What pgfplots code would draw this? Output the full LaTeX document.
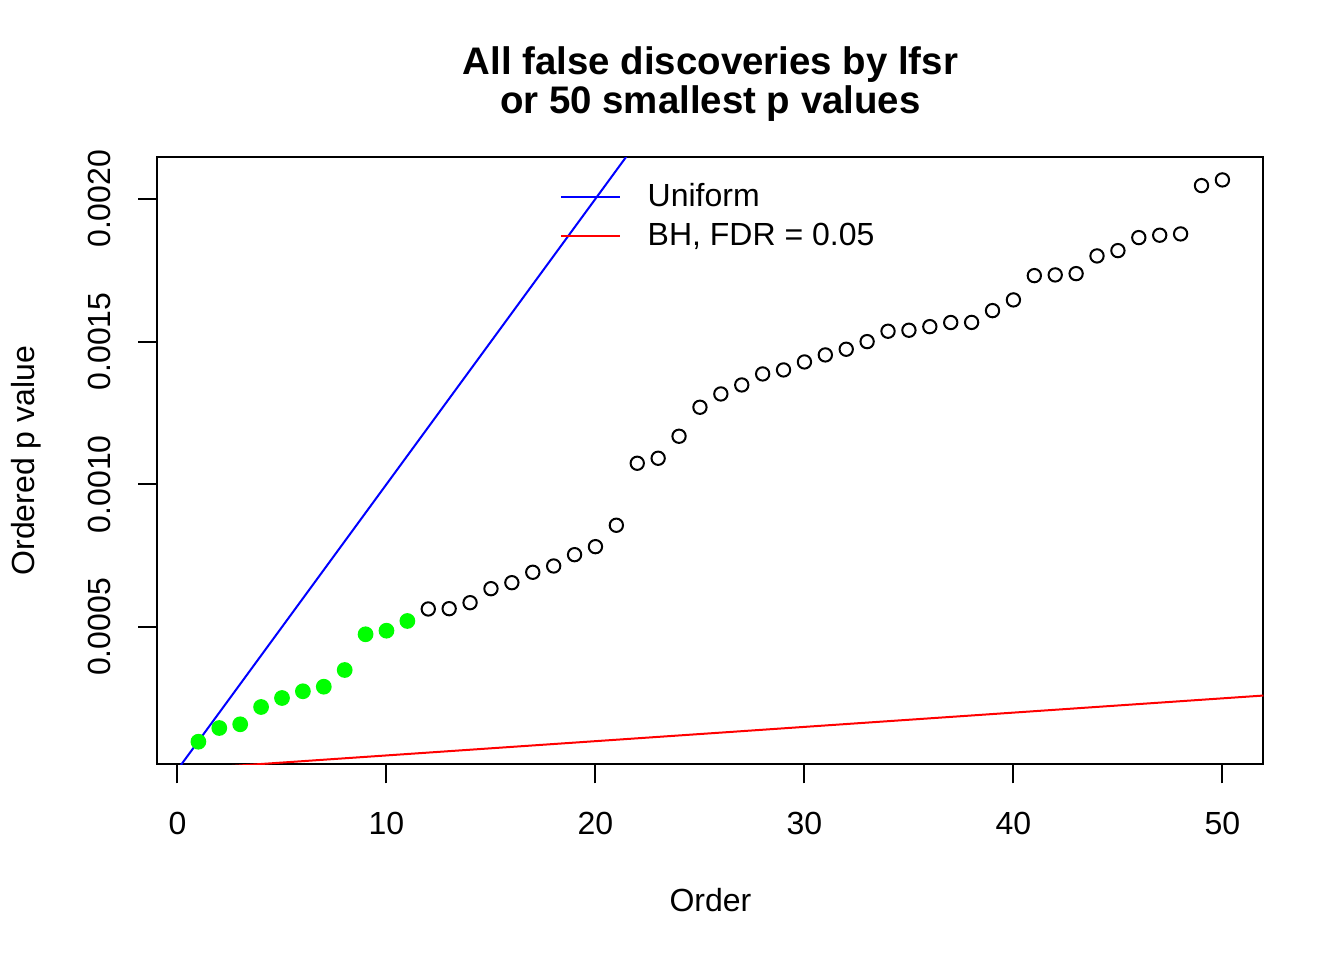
\documentclass[border=0pt]{standalone}
\usepackage{fontspec}
\setmainfont{Liberation Sans}
\usepackage{pgfplots}
\usepackage{pgfplotstable}
\pgfplotsset{compat=1.18}
\definecolor{rgreen}{RGB}{0,255,0}
\pgfplotstableread{
x y
1 0.0000981
2 0.0001461
3 0.0001591
4 0.0002197
5 0.0002512
6 0.0002747
7 0.0002908
8 0.0003493
9 0.0004744
10 0.0004870
11 0.0005210
}\greenpts
\pgfplotstableread{
x y
12 0.0005631
13 0.0005641
14 0.0005851
15 0.0006342
16 0.0006552
17 0.0006917
18 0.0007137
19 0.0007533
20 0.0007814
21 0.0008564
22 0.0010736
23 0.0010911
24 0.0011682
25 0.0012698
26 0.0013164
27 0.0013479
28 0.0013865
29 0.0014005
30 0.0014285
31 0.0014531
32 0.0014730
33 0.0014997
34 0.0015361
35 0.0015396
36 0.0015522
37 0.0015666
38 0.0015670
39 0.0016083
40 0.0016458
41 0.0017309
42 0.0017334
43 0.0017379
44 0.0017999
45 0.0018185
46 0.0018641
47 0.0018725
48 0.0018770
49 0.0020463
50 0.0020662
}\openpts
\begin{document}
\begin{tikzpicture}
\useasboundingbox (-59.04pt,-73.44pt) rectangle (444.96pt,286.56pt);
\begin{axis}[
  at={(0pt,0pt)}, anchor=south west,
  scale only axis, width=414.72pt, height=227.52pt,
  xmin=-0.96, xmax=51.96, ymin=0.0000194, ymax=0.0021449,
  axis line style={line width=0.75pt},
  every tick/.style={black, line width=0.75pt},
  tick align=outside, major tick length=7.2pt,
  xtick pos=left, ytick pos=left,
  xtick={0,10,20,30,40,50},
  ytick={0.0005,0.001,0.0015,0.002},
  scaled y ticks=false,
  /pgf/number format/assume math mode=true,
  yticklabel={\pgfmathprintnumber[fixed, fixed zerofill, precision=4]{\tick}},
  tick label style={font=\fontsize{12}{14.4}\selectfont, inner sep=0pt},
  xticklabel style={anchor=base},
  xticklabel shift=19.1pt,
  yticklabel style={rotate=90, anchor=base},
  yticklabel shift=10.4pt,
  xlabel={Order},
  xlabel style={at={(axis description cs:0.5,-0.243)}, anchor=base, inner sep=0pt, font=\fontsize{12}{14.4}\selectfont},
  ylabel={Ordered p value},
  ylabel style={at={(axis description cs:-0.1112,0.5)}, rotate=0, anchor=base, inner sep=0pt, font=\fontsize{12}{14.4}\selectfont},
  title={\begin{tabular}[b]{@{}c@{}}All false discoveries by lfsr\\or 50 smallest p values\end{tabular}},
  title style={at={(axis description cs:0.5,1.0462)}, anchor=base, inner sep=0pt, font=\bfseries\fontsize{14.4}{13.9}\selectfont},
  legend style={draw=none, fill=none, at={(axis description cs:0.3638,0.9573)}, anchor=north west, inner sep=0pt, outer sep=0pt, font=\fontsize{12}{14.4}\selectfont, nodes={inner sep=0pt}, row sep=4.6pt, column sep=0pt},
  legend cell align=left,
  legend image code/.code={\draw[#1, line width=0.75pt] (0pt,0pt) -- (22.1pt,0pt); \path[draw=none, fill=none] (0pt,0pt) -- (32.6pt,0pt);},
]
\addplot[blue, line width=0.75pt, forget plot] coordinates {(-1,-0.0001) (53,0.0053)};
\addplot[red, line width=0.75pt, forget plot] coordinates {(-1,-0.000005) (53,0.000265)};
\addplot[only marks, mark=*, mark size=2.7pt, mark options={fill=rgreen, draw=rgreen, line width=0.5pt}, forget plot] table[x=x, y=y] {\greenpts};
\addplot[only marks, mark=o, mark size=2.5pt, mark options={draw=black, line width=0.75pt}, forget plot] table[x=x, y=y] {\openpts};
\addlegendimage{blue}
\addlegendentry{Uniform}
\addlegendimage{red}
\addlegendentry{BH, FDR = 0.05}
\end{axis}
\end{tikzpicture}
\end{document}
